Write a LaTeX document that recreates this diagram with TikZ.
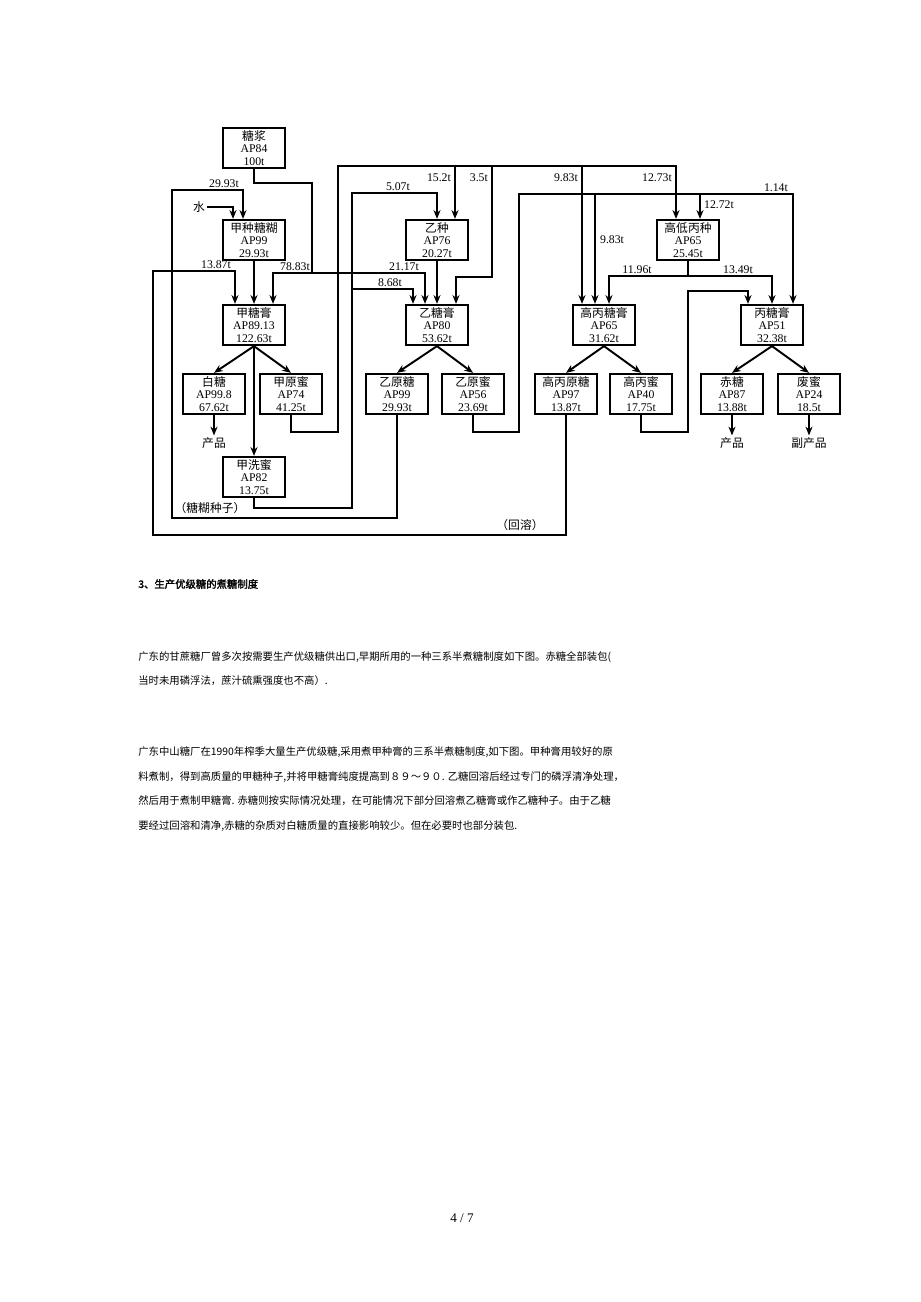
\documentclass[tikz,border=0pt]{standalone}
\usepackage{fontspec}
\setmainfont{Liberation Serif}
\newfontfamily\cjk[AutoFakeBold=2]{Noto Sans CJK SC}
\usetikzlibrary{arrows.meta,calc}
\tikzset{
  blk/.style={draw, line width=1.3pt, minimum width=1.24cm, minimum height=0.8cm,
    inner sep=1pt, align=center, font=\fontsize{6.7}{7.1}\selectfont},
  lbl/.style={inner sep=1pt, font=\fontsize{6.7}{7}\selectfont},
  ln/.style={line width=1.1pt},
  txt/.style={anchor=west, inner sep=0pt, font=\cjk\fontsize{5.9}{7}\selectfont}
}

\begin{document}
\begin{tikzpicture}[x=0.02cm, y=-0.02cm, >={Stealth[length=5pt,width=4pt]}]
    \useasboundingbox (0,0) rectangle (920,1302);

    % boxes
    \node[blk] (syr)    at (254,148) {{\cjk 糖浆}\\AP84\\100t};
    \node[blk] (aseed)  at (254,240) {{\cjk 甲种糖糊}\\AP99\\29.93t};
    \node[blk] (amass)  at (254,325) {{\cjk 甲糖膏}\\AP89.13\\122.63t};
    \node[blk] (white)  at (214,394) {{\cjk 白糖}\\AP99.8\\67.62t};
    \node[blk] (amol)   at (291,394) {{\cjk 甲原蜜}\\AP74\\41.25t};
    \node[blk] (awash)  at (254,477) {{\cjk 甲洗蜜}\\AP82\\13.75t};
    \node[blk] (bseed)  at (437,240) {{\cjk 乙种}\\AP76\\20.27t};
    \node[blk] (bmass)  at (437,325) {{\cjk 乙糖膏}\\AP80\\53.62t};
    \node[blk] (braw)   at (397,394) {{\cjk 乙原糖}\\AP99\\29.93t};
    \node[blk] (bmol)   at (473,394) {{\cjk 乙原蜜}\\AP56\\23.69t};
    \node[blk] (hcmass) at (604,325) {{\cjk 高丙糖膏}\\AP65\\31.62t};
    \node[blk] (hcraw)  at (566,394) {{\cjk 高丙原糖}\\AP97\\13.87t};
    \node[blk] (hcmol)  at (641,394) {{\cjk 高丙蜜}\\AP40\\17.75t};
    \node[blk] (hlseed) at (688,240) {{\cjk 高低丙种}\\AP65\\25.45t};
    \node[blk] (cmass)  at (772,325) {{\cjk 丙糖膏}\\AP51\\32.38t};
    \node[blk] (red)    at (732,394) {{\cjk 赤糖}\\AP87\\13.88t};
    \node[blk] (final)  at (809,394) {{\cjk 废蜜}\\AP24\\18.5t};

    \node[lbl] (water) at (199,207) {\cjk 水};
    \node[lbl] (prod1) at (214,443) {\cjk 产品};
    \node[lbl] (prod2) at (732,443) {\cjk 产品};
    \node[lbl] (prod3) at (809,443) {\cjk 副产品};

    % syrup split
    \coordinate (sp) at (312,273);
    \draw[ln] (syr.south) -- ++(0,14) -| (sp);
    \draw[ln,->] (sp) -| ($(amass.north)+(19,0)$);
    \draw[ln,->] (sp) -| ($(bmass.north)+(-12,0)$);
    \node[lbl,anchor=south east] at (312,273) {78.83t};
    \node[lbl,anchor=south east] at (421,273) {21.17t};

    % water and seed magma
    \draw[ln,->] (water.east) -| ($(aseed.north)+(-21,0)$);
    \draw[ln,->] (braw.south) |- (172,518) |- (243,190) -- ($(aseed.north)+(-11,0)$);
    \node[lbl,anchor=south east] at (241,190) {29.93t};
    \node[lbl,anchor=south] at (210,516) {\cjk （糖糊种子）};
    \draw[ln,->] (aseed.south) -- (amass.north);

    % remelt loop
    \draw[ln,->] (hcraw.south) |- (153,535) |- (235,271) -- ($(amass.north)+(-19,0)$);
    \node[lbl,anchor=south east] at (233,271) {13.87t};
    \node[lbl,anchor=south] at (520,533) {\cjk （回溶）};

    \draw[ln,->] (amass.south) -- (white.north);
    \draw[ln,->] (amass.south) -- (amol.north);
    \draw[ln,->] (amass.south) -- (awash.north);
    \draw[ln,->] (white.south) -- (prod1.north);

    % A molasses
    \coordinate (ab) at (338,166);
    \coordinate (t1) at (455,166);
    \coordinate (t2) at (492,166);
    \coordinate (t3) at (582,166);
    \draw[ln,->] (amol.south) -- ++(0,17) -| (ab) -| ($(hlseed.north)+(-12,0)$);
    \draw[ln,->] (t1) -- (t1 |- bseed.north);
    \draw[ln,->] (t2) -- ++(0,111) -| ($(bmass.north)+(19,0)$);
    \draw[ln,->] (t3) -- (t3 |- hcmass.north);
    \node[lbl,anchor=east] at (453,178) {15.2t};
    \node[lbl,anchor=east] at (490,178) {3.5t};
    \node[lbl,anchor=east] at (580,178) {9.83t};
    \node[lbl,anchor=east] at (674,178) {12.73t};

    % A wash molasses
    \coordinate (wb) at (352,289);
    \draw[ln,->] (awash.south) -- ++(0,10) -| (352,193) -| (bseed.north);
    \draw[ln,->] (wb) -| ($(bmass.north)+(-24,0)$);
    \node[lbl,anchor=south east] at (412,193) {5.07t};
    \node[lbl,anchor=south east] at (404,289) {8.68t};

    \draw[ln,->] (bseed.south) -- (bmass.north);
    \draw[ln,->] (bmass.south) -- (braw.north);
    \draw[ln,->] (bmass.south) -- (bmol.north);

    % B molasses
    \coordinate (u1) at (595,194);
    \coordinate (u2) at (700,194);
    \draw[ln,->] (bmol.south) -- ++(0,17) -| (519,194) -| ($(cmass.north)+(21,0)$);
    \draw[ln,->] (u1) -- (u1 |- hcmass.north);
    \draw[ln,->] (u2) -- (u2 |- hlseed.north);
    \node[lbl,anchor=west] at (598,240) {9.83t};
    \node[lbl,anchor=west] at (702,205) {12.72t};
    \node[lbl,anchor=south east] at (790,194) {1.14t};

    % high-low C seed
    \coordinate (hb) at (688,276);
    \draw[ln] (hlseed.south) -- (hb);
    \draw[ln,->] (hb) -| ($(hcmass.north)+(5,0)$);
    \draw[ln,->] (hb) -| (cmass.north);
    \node[lbl,anchor=south] at (637,276) {11.96t};
    \node[lbl,anchor=south] at (738,276) {13.49t};

    % high C molasses
    \draw[ln,->] (hcmol.south) -- ++(0,17) -| (688,291) -| ($(cmass.north)+(-24,0)$);

    \draw[ln,->] (hcmass.south) -- (hcraw.north);
    \draw[ln,->] (hcmass.south) -- (hcmol.north);
    \draw[ln,->] (cmass.south) -- (red.north);
    \draw[ln,->] (cmass.south) -- (final.north);
    \draw[ln,->] (red.south) -- (prod2.north);
    \draw[ln,->] (final.south) -- (prod3.north);

    % page text
    \node[txt] at (138,584) {\bfseries 3、生产优级糖的煮糖制度};
    \node[txt] at (138,657) {广东的甘蔗糖厂曾多次按需要生产优级糖供出口,早期所用的一种三系半煮糖制度如下图。赤糖全部装包(};
    \node[txt] at (138,681) {当时未用磷浮法，蔗汁硫熏强度也不高）.};
    \node[txt] at (138,752) {广东中山糖厂在1990年榨季大量生产优级糖,采用煮甲种膏的三系半煮糖制度,如下图。甲种膏用较好的原};
    \node[txt] at (138,777) {料煮制，得到高质量的甲糖种子,并将甲糖膏纯度提高到８９～９０. 乙糖回溶后经过专门的磷浮清净处理，};
    \node[txt] at (138,801) {然后用于煮制甲糖膏. 赤糖则按实际情况处理，在可能情况下部分回溶煮乙糖膏或作乙糖种子。由于乙糖};
    \node[txt] at (138,826) {要经过回溶和清净,赤糖的杂质对白糖质量的直接影响较少。但在必要时也部分装包.};
    \node[lbl,font=\fontsize{7.5}{9}\selectfont] (page) at (462,1218) {4 / 7};
\end{tikzpicture}
\end{document}
